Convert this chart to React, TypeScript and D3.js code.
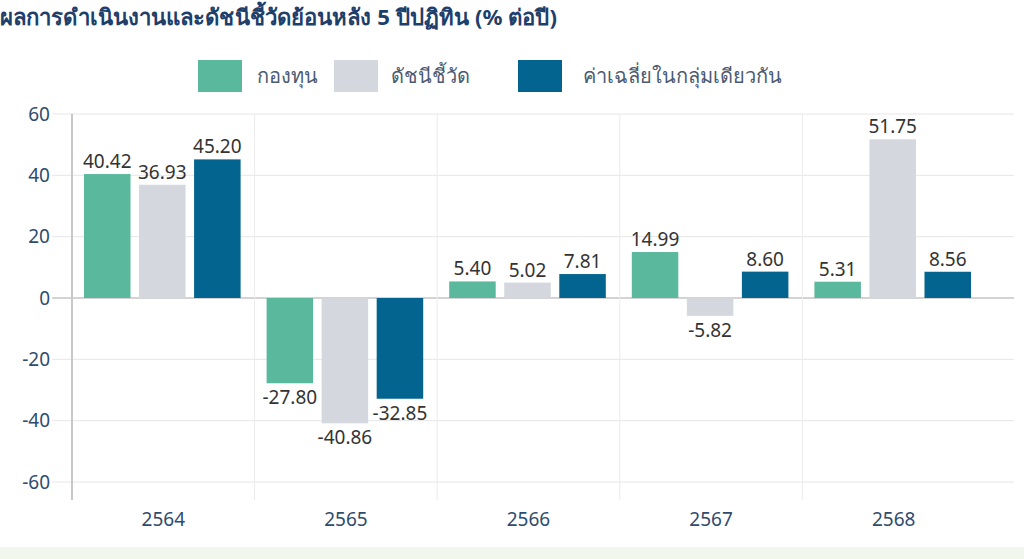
import * as d3 from "d3";
import React from "react";

const years = ["2564", "2565", "2566", "2567", "2568"];
const seriesNames = ["กองทุน", "ดัชนีชี้วัด", "ค่าเฉลี่ยในกลุ่มเดียวกัน"];
const fundValues = [40.42, -27.8, 5.4, 14.99, 5.31];
const indexValues = [36.93, -40.86, 5.02, -5.82, 51.75];
const peerValues = [45.2, -32.85, 7.81, 8.6, 8.56];
const yTicks = [60, 40, 20, 0, -20, -40, -60];
const colors = ["#5ab89c", "#d4d7dd", "#03658f"];
const title = "ผลการดำเนินงานและดัชนีชี้วัดย้อนหลัง 5 ปีปฏิทิน (% ต่อปี)";

const W = 1024, H = 559;
const font = "'Noto Sans', 'DejaVu Sans', sans-serif";

const App: React.FC = () => {
  const series = [fundValues, indexValues, peerValues];

  const x0 = d3.scaleBand<string>().domain(years).range([72, 985]);
  const x1 = d3.scaleBand<number>().domain([0, 1, 2])
    .range([12, x0.bandwidth() - 14]).paddingInner(0.155);
  const y = d3.scaleLinear().domain([-60, 60]).range([482, 114]);

  const legendX = [198, 334, 518];
  const legendTextX = [257, 391, 583];

  return (
    <svg width={W} height={H} style={{ position: "absolute", left: 0, top: 0, background: "#fff" }}>
      <rect x={0} y={547} width={W} height={H - 547} fill="#f2f7ee" />
      <text x={0} y={25} fontFamily={font} fontSize={22} fontWeight="bold" fill="#1f3f6b"
        textLength={557} lengthAdjust="spacingAndGlyphs">{title}</text>

      {/* legend */}
      {seriesNames.map((name, i) => (
        <g key={name}>
          <rect x={legendX[i]} y={60} width={44} height={32} fill={colors[i]} />
          <text x={legendTextX[i]} y={83} fontFamily={font} fontSize={20} fill="#4c5b72">{name}</text>
        </g>
      ))}

      {/* horizontal grid */}
      {yTicks.map(t => (
        <g key={t}>
          <line x1={52} x2={1014} y1={y(t)} y2={y(t)} stroke={t === 0 ? "#c4c4c4" : "#e6e6e6"} strokeWidth={t === 0 ? 1.5 : 1} />
          <text x={50} y={y(t)} dy="0.35em" textAnchor="end" fontFamily={font} fontSize={19} fill="#2f4c6e">{t}</text>
        </g>
      ))}

      {/* vertical category lines */}
      {years.map((yr, i) => (
        <line key={yr} x1={x0(yr)!} x2={x0(yr)!} y1={114} y2={500}
          stroke={i === 0 ? "#c8c8c8" : "#ececec"} strokeWidth={i === 0 ? 2 : 1} />
      ))}

      {/* bars */}
      {years.map((yr, i) => (
        <g key={yr} transform={`translate(${x0(yr)}, 0)`}>
          {series.map((vals, s) => {
            const v = vals[i];
            const top = y(Math.max(0, v));
            const bottom = y(Math.min(0, v));
            const bx = x1(s)!;
            const bw = x1.bandwidth();
            return (
              <g key={s}>
                <rect x={bx} y={top} width={bw} height={bottom - top} fill={colors[s]} />
                <text x={bx + bw / 2} y={v >= 0 ? top - 6 : bottom + 21} textAnchor="middle"
                  fontFamily={font} fontSize={19} fill="#333">{v.toFixed(2)}</text>
              </g>
            );
          })}
          <text x={x0.bandwidth() / 2} y={526} textAnchor="middle" fontFamily={font} fontSize={19} fill="#2f4c6e">{yr}</text>
        </g>
      ))}
    </svg>
  );
};

export default App;
